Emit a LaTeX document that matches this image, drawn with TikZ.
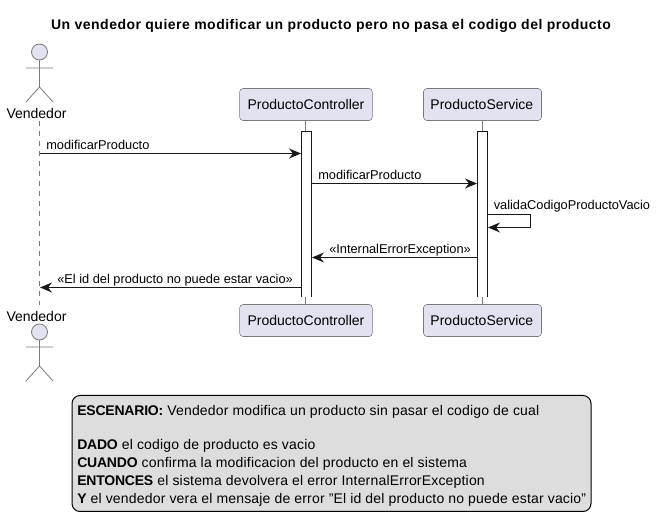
\documentclass[tikz,border=0pt]{standalone}
\usepackage{fontspec}
\setmainfont{Liberation Sans}
\usetikzlibrary{arrows.meta}
\definecolor{pfill}{HTML}{E2E2F0}
\definecolor{pline}{HTML}{181818}
\definecolor{gline}{HTML}{7A7A7A}
\definecolor{nfill}{HTML}{DDDDDD}
\newcommand{\nsp}{\addfontfeatures{LetterSpace=1.3}}
\newcommand{\nb}[1]{{\bfseries\addfontfeatures{LetterSpace=-1.5}#1}}
\tikzset{
  px/.style={x=0.75pt,y=-0.75pt},
  pbox/.style={draw=gline,fill=pfill,rounded corners=2.5pt,line width=0.4pt,minimum height=24pt,inner sep=0pt,font=\fontsize{10.5}{12}\selectfont,text=black},
  life/.style={draw=gline,line width=0.4pt,dashed,dash pattern=on 3.75pt off 3.75pt},
  actorline/.style={draw=gline,line width=0.6pt},
  msg/.style={draw=pline,line width=0.75pt,-{Stealth[length=9pt,width=7.5pt,inset=3pt]}},
  msgtxt/.style={anchor=base west,inner sep=0pt,font=\fontsize{9.6}{12}\selectfont,text=black},
  actortxt/.style={inner sep=0pt,font=\fontsize{10.5}{12}\selectfont,text=black},
  act/.style={draw=pline,fill=white,line width=0.75pt}
}
\begin{document}
\begin{tikzpicture}[px]
\useasboundingbox (0,0) rectangle (657,530);
% title
\node[inner sep=0pt,font=\bfseries\fontsize{10.5}{12}\selectfont\addfontfeatures{LetterSpace=3.5}] (title) at (331,26) {Un vendedor quiere modificar un producto pero no pasa el codigo del producto};
% lifeline coordinates
\coordinate (vt) at (39.5,121); \coordinate (vb) at (39.5,305);
\coordinate (ct) at (305.5,121); \coordinate (cb) at (305.5,305);
\coordinate (st) at (482.5,121); \coordinate (sb) at (482.5,305);
\draw[life] (vt) -- (vb);
\draw[gline,line width=0.4pt] (ct) -- (cb);
\draw[gline,line width=0.4pt] (st) -- (sb);
% participants
\node[pbox,minimum width=99.5pt] (pc) at (306,104.5) {ProductoController};
\node[pbox,minimum width=88.5pt] (ps) at (482.5,104.5) {\hspace{-1pt}ProductoService};
\node[pbox,minimum width=99.5pt] (pcb) at (306,320.5) {ProductoController};
\node[pbox,minimum width=88.5pt] (psb) at (482.5,320.5) {\hspace{-1pt}ProductoService};
% actors
\draw[actorline,fill=pfill] (39.5,52) circle (6pt);
\draw[actorline] (39.5,60) -- (39.5,87) (26,68) -- (53,68) (26,102) -- (39.5,87) -- (53,102);
\node[actortxt] (v1) at (36.5,114) {Vendedor};
\node[actortxt] (v2) at (36.5,316) {Vendedor};
\draw[actorline,fill=pfill] (39.5,332) circle (6pt);
\draw[actorline] (39.5,340) -- (39.5,366) (26,347) -- (53,347) (26,381) -- (39.5,366) -- (53,381);
% activations
\fill[white] (301.5,131.5) rectangle (311.5,297);
\draw[act] (301.5,297) -- (301.5,131.5) -- (311.5,131.5) -- (311.5,297);
\fill[white] (477.5,131.5) rectangle (487.5,297);
\draw[act] (477.5,297) -- (477.5,131.5) -- (487.5,131.5) -- (487.5,297);
% message anchors
\coordinate (m1a) at (39.5,153.5); \coordinate (m1b) at (301,153.5);
\coordinate (m2a) at (311.5,183.5); \coordinate (m2b) at (477,183.5);
\coordinate (m3a) at (487.5,214.5); \coordinate (m3b) at (530,214.5);
\coordinate (m3c) at (530,227.5); \coordinate (m3d) at (488,227.5);
\coordinate (m4a) at (477.5,257.5); \coordinate (m4b) at (312,257.5);
\coordinate (m5a) at (301.5,287.5); \coordinate (m5b) at (40,287.5);
\draw[msg] (m1a) -- (m1b);
\draw[msg] (m2a) -- (m2b);
\draw[msg] (m3a) -- (m3b) -- (m3c) -- (m3d);
\draw[msg] (m4a) -- (m4b);
\draw[msg] (m5a) -- (m5b);
\node[msgtxt] (l1) at (46,149.5) {modificarProducto};
\node[msgtxt] (l2) at (318,179.5) {modificarProducto};
\node[msgtxt] (l3) at (493.5,210) {validaCodigoProductoVacio};
\node[msgtxt] (l4) at (329,253.5) {«InternalErrorException»};
\node[msgtxt] (l5) at (57,283.5) {«El id del producto no puede estar vacio»};
% note
\node[draw=black,fill=nfill,line width=0.75pt,rounded corners=6pt,anchor=north west,inner sep=0pt,minimum width=389.25pt,minimum height=87pt] (note) at (71.5,395) {};
\node[anchor=north west,inner sep=0pt,align=left,font=\fontsize{10.5}{13.5}\selectfont\nsp,text=black] (notetxt) at (77,405) {\nb{ESCENARIO:} Vendedor modifica un producto sin pasar el codigo de cual\\[12pt]
\nb{DADO} el codigo de producto es vacio\\
\nb{CUANDO} confirma la modificacion del producto en el sistema\\
\nb{ENTONCES} el sistema devolvera el error InternalErrorException\\
\nb{Y} el vendedor vera el mensaje de error "El id del producto no puede estar vacio"};
\end{tikzpicture}
\end{document}
